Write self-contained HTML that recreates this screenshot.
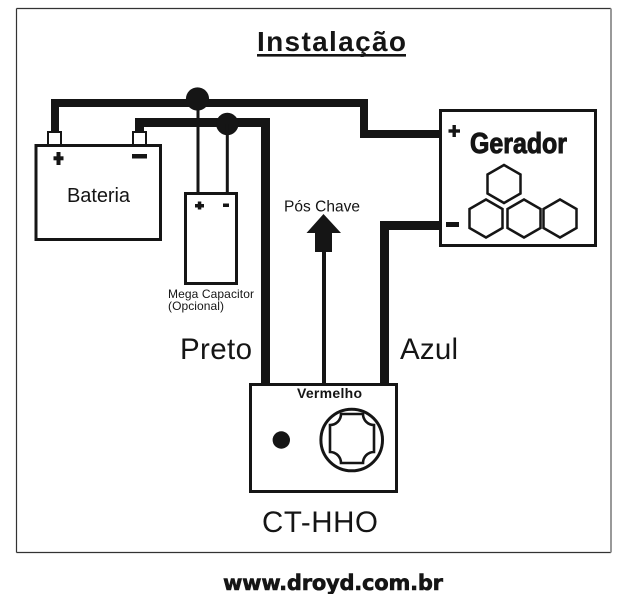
<!DOCTYPE html>
<html>
<head>
<meta charset="utf-8">
<style>
html,body{margin:0;padding:0;background:#fff;}
svg{display:block;}
text{font-family:"Liberation Sans",Arial,sans-serif;fill:#151515;}
</style>
</head>
<body>
<svg width="640" height="594" viewBox="0 0 640 594" xmlns="http://www.w3.org/2000/svg">
  <rect x="0" y="0" width="640" height="594" fill="#fff"/>
  <!-- frame -->
  <line x1="16.5" y1="8.5" x2="611" y2="8.5" stroke="#333" stroke-width="1.2"/>
  <line x1="16.5" y1="8.5" x2="16.5" y2="552.5" stroke="#333" stroke-width="1.2"/>
  <line x1="16.5" y1="552.5" x2="611" y2="552.5" stroke="#333" stroke-width="1.2"/>
  <line x1="611" y1="8.5" x2="611" y2="552.5" stroke="#999" stroke-width="2"/>

  <!-- title -->
  <text x="257" y="51" font-size="28" font-weight="bold" textLength="149" lengthAdjust="spacing">Instalação</text>
  <rect x="257" y="54" width="149" height="2.6" fill="#151515"/>

  <g fill="#151515">
    <!-- positive wire -->
    <rect x="51" y="99" width="8" height="33"/>
    <rect x="51" y="99" width="317" height="8"/>
    <rect x="360" y="99" width="8" height="39"/>
    <rect x="360" y="130" width="81" height="8"/>
    <!-- negative wire -->
    <rect x="135" y="118" width="9" height="14"/>
    <rect x="135" y="118" width="135" height="9"/>
    <rect x="261" y="118" width="9" height="267"/>
    <!-- azul wire -->
    <rect x="380" y="221" width="61" height="9"/>
    <rect x="380" y="221" width="9" height="164"/>
    <!-- vermelho / pos chave -->
    <rect x="322" y="250" width="4" height="135"/>
    <rect x="315" y="231" width="17" height="21"/>
    <polygon points="306.5,233 323.5,214 341,233"/>
    <!-- junctions -->
    <circle cx="197.5" cy="99" r="11.6"/>
    <circle cx="227.3" cy="124" r="11.2"/>
    <rect x="196.5" y="99" width="3" height="95"/>
    <rect x="225.8" y="124" width="3" height="70"/>
  </g>

  <!-- battery terminals -->
  <rect x="48" y="132" width="13" height="13" fill="#fff" stroke="#151515" stroke-width="2"/>
  <rect x="133" y="132" width="13" height="13" fill="#fff" stroke="#151515" stroke-width="2"/>
  <!-- battery -->
  <rect x="36" y="145.5" width="124.5" height="94" fill="#fff" stroke="#151515" stroke-width="3"/>
  <rect x="53.5" y="156.3" width="10" height="4" fill="#151515"/>
  <rect x="56.5" y="152" width="4" height="13" fill="#151515"/>
  <rect x="132" y="154" width="15" height="4.5" fill="#151515"/>
  <text x="67" y="202" font-size="20" textLength="63" lengthAdjust="spacing">Bateria</text>

  <!-- capacitor -->
  <rect x="185.5" y="193.5" width="51" height="90" fill="#fff" stroke="#151515" stroke-width="3"/>
  <rect x="195" y="204" width="9" height="3.5" fill="#151515"/>
  <rect x="197.8" y="201.5" width="3.5" height="8" fill="#151515"/>
  <rect x="223" y="203.5" width="6" height="3.5" fill="#151515"/>
  <text x="168" y="298" font-size="12" textLength="86" lengthAdjust="spacing">Mega Capacitor</text>
  <text x="168" y="310" font-size="12" textLength="56" lengthAdjust="spacing">(Opcional)</text>

  <!-- pos chave -->
  <text x="284" y="211.5" font-size="15.5" textLength="76" lengthAdjust="spacing">Pós Chave</text>

  <!-- gerador -->
  <rect x="440.5" y="110.5" width="155" height="135" fill="#fff" stroke="#151515" stroke-width="3"/>
  <rect x="448.5" y="129.3" width="11.5" height="3.4" fill="#151515"/>
  <rect x="452.5" y="125" width="3.4" height="12" fill="#151515"/>
  <text x="470" y="153" font-size="29" font-weight="bold" textLength="97" lengthAdjust="spacingAndGlyphs" stroke="#151515" stroke-width="1">Gerador</text>
  <rect x="446" y="222" width="13" height="5" fill="#151515"/>
  <g fill="none" stroke="#151515" stroke-width="2.5" stroke-linejoin="miter">
    <polygon points="504,165 520.5,174.5 520.5,193.5 504,203 487.5,193.5 487.5,174.5"/>
    <polygon points="486,199.5 502.5,209 502.5,228 486,237.5 469.5,228 469.5,209"/>
    <polygon points="524,199.5 540.5,209 540.5,228 524,237.5 507.5,228 507.5,209"/>
    <polygon points="560,199.5 576.5,209 576.5,228 560,237.5 543.5,228 543.5,209"/>
  </g>

  <!-- labels -->
  <text x="180" y="359" font-size="29.5" textLength="72" lengthAdjust="spacing">Preto</text>
  <text x="400" y="359" font-size="29.5" textLength="58" lengthAdjust="spacing">Azul</text>

  <!-- CT-HHO -->
  <rect x="250.5" y="384.5" width="146" height="107" fill="#fff" stroke="#151515" stroke-width="3"/>
  <text x="297" y="398" font-size="14" font-weight="bold" textLength="65" lengthAdjust="spacing">Vermelho</text>
  <circle cx="281.3" cy="440" r="8.7" fill="#151515"/>
  <circle cx="351.7" cy="440" r="30.8" fill="none" stroke="#151515" stroke-width="3"/>
  <path d="M341,414 L363,414 A11 11 0 0 0 374,425 L374,452 A11 11 0 0 0 363,463 L341,463 A11 11 0 0 0 330,452 L330,425 A11 11 0 0 0 341,414 Z" fill="none" stroke="#151515" stroke-width="2.6"/>
  <text x="262" y="532" font-size="29.5" textLength="116" lengthAdjust="spacing">CT-HHO</text>

  <!-- url -->
  <text x="223" y="590" font-size="21" font-weight="bold" textLength="220" lengthAdjust="spacing" stroke="#151515" stroke-width="0.6" style="font-family:'DejaVu Sans','Liberation Sans',sans-serif;">www.droyd.com.br</text>
</svg>
</body>
</html>
